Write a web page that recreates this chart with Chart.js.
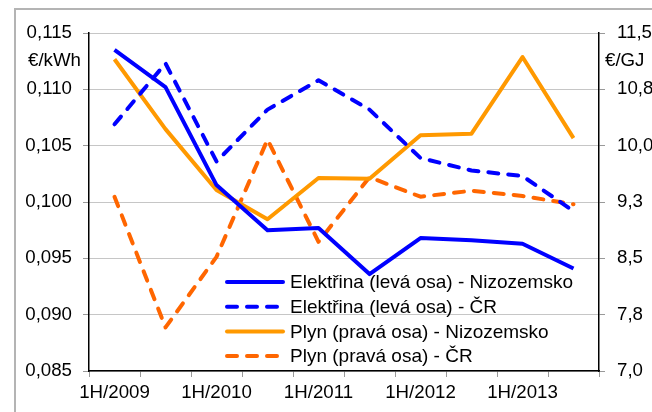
<!DOCTYPE html>
<html>
<head>
<meta charset="utf-8">
<script src="https://cdn.jsdelivr.net/npm/chart.js@4"></script>
<style>
  html, body { margin: 0; padding: 0; background: #fff; }
  #wrap { width: 652px; height: 412px; position: relative; }
</style>
</head>
<body>
<div id="wrap"><canvas id="chart" width="652" height="412"></canvas></div>
<script>
// pololetí
const categories = ['1H/2009', '2H/2009', '1H/2010', '2H/2010', '1H/2011', '2H/2011', '1H/2012', '2H/2012', '1H/2013', '2H/2013'];
// elektřina, €/kWh (levá osa)
const elektrinaNL = [0.1135, 0.1102, 0.1015, 0.0975, 0.0977, 0.0936, 0.0968, 0.0966, 0.0963, 0.0941];
const elektrinaCR = [0.1069, 0.1123, 0.1036, 0.1082, 0.1108, 0.1082, 0.1039, 0.1028, 0.1023, 0.0992];
// plyn, €/GJ (pravá osa)
const plynNL = [11.15, 10.22, 9.41, 9.02, 9.57, 9.56, 10.14, 10.16, 11.18, 10.10];
const plynCR = [9.32, 7.58, 8.52, 10.08, 8.72, 9.58, 9.32, 9.40, 9.33, 9.22];

const FONT = { family: '"Liberation Sans", Arial, sans-serif', size: 18.7 };
const dash = [10, 10];

// rámeček, jednotky os a legenda uvnitř grafu
const extras = {
    id: 'extras',
    beforeDraw(chart) {
        const ctx = chart.ctx;
        ctx.save();
        ctx.strokeStyle = '#b4b4b4';
        ctx.lineWidth = 2;
        ctx.strokeRect(15, 9, 700, 500);
        ctx.restore();
    },
    afterDraw(chart) {
        const ctx = chart.ctx;
        const area = chart.chartArea;
        ctx.save();
        ctx.font = FONT.size + 'px ' + FONT.family;
        ctx.fillStyle = '#000';
        ctx.textBaseline = 'middle';
        ctx.textAlign = 'left';
        ctx.fillText('€/kWh', 28, 61);
        ctx.fillText('€/GJ', 605, 61);

        ctx.font = '19px ' + FONT.family;
        chart.data.datasets.forEach(function(ds, i) {
            const y = area.top + 249 + i * 24.7;
            const x0 = area.left + 138;
            ctx.beginPath();
            ctx.strokeStyle = ds.borderColor;
            ctx.lineWidth = ds.borderWidth;
            ctx.lineCap = 'round';
            ctx.setLineDash(ds.borderDash || []);
            ctx.moveTo(x0, y);
            ctx.lineTo(x0 + 56, y);
            ctx.stroke();
            ctx.setLineDash([]);
            ctx.fillStyle = '#000';
            ctx.fillText(ds.label, x0 + 63, y + 1);
        });
        ctx.restore();
    }
};

const comma = (v, d) => Number(v).toFixed(d).replace('.', ',');

new Chart(document.getElementById('chart').getContext('2d'), {
    type: 'line',
    data: {
        labels: categories,
        datasets: [
            {
                label: 'Elektřina (levá osa) - Nizozemsko',
                data: elektrinaNL,
                yAxisID: 'y',
                borderColor: '#0000ff',
                borderWidth: 4,
                borderJoinStyle: 'round'
            },
            {
                label: 'Elektřina (levá osa) - ČR',
                data: elektrinaCR,
                yAxisID: 'y',
                borderColor: '#0000ff',
                borderWidth: 4,
                borderDash: dash,
                borderCapStyle: 'round',
                borderJoinStyle: 'round'
            },
            {
                label: 'Plyn (pravá osa) - Nizozemsko',
                data: plynNL,
                yAxisID: 'y2',
                borderColor: '#ff9900',
                borderWidth: 4,
                borderJoinStyle: 'round'
            },
            {
                label: 'Plyn (pravá osa) - ČR',
                data: plynCR,
                yAxisID: 'y2',
                borderColor: '#ff6600',
                borderWidth: 4,
                borderDash: dash,
                borderCapStyle: 'round',
                borderJoinStyle: 'round'
            }
        ]
    },
    options: {
        responsive: false,
        animation: false,
        events: [],
        elements: { point: { radius: 0 }, line: { tension: 0 } },
        layout: { padding: { top: 33, left: 0, right: 0, bottom: 0 } },
        plugins: {
            legend: { display: false },
            tooltip: { enabled: false }
        },
        scales: {
            x: {
                offset: true,
                grid: {
                    offset: true,
                    drawOnChartArea: false,
                    drawTicks: true,
                    tickLength: 6,
                    tickColor: '#999'
                },
                border: { color: '#000', width: 1.5 },
                ticks: {
                    autoSkip: false,
                    maxRotation: 0,
                    padding: 5,
                    color: '#000',
                    font: FONT,
                    callback: function(value, index) {
                        return index % 2 === 0 ? categories[index] : '';
                    }
                },
                afterFit: function(scale) { scale.height = 41; }
            },
            y: {
                position: 'left',
                min: 0.085,
                max: 0.115,
                ticks: {
                    stepSize: 0.005,
                    padding: 11,
                    color: '#000',
                    font: FONT,
                    callback: v => comma(v, 3)
                },
                grid: {
                    color: '#8c8c8c',
                    lineWidth: 1,
                    tickLength: 6,
                    tickColor: '#999'
                },
                border: { color: '#000', width: 1.5, dash: [1, 1] },
                afterFit: function(scale) { scale.width = 89; }
            },
            y2: {
                position: 'right',
                min: 7,
                max: 11.5,
                ticks: {
                    stepSize: 0.75,
                    padding: 12,
                    color: '#000',
                    font: FONT,
                    callback: v => comma(v, 1)
                },
                grid: {
                    drawOnChartArea: false,
                    tickLength: 6,
                    tickColor: '#999'
                },
                border: { color: '#000', width: 1.5 },
                afterFit: function(scale) { scale.width = 53; }
            }
        }
    },
    plugins: [extras]
});
</script>
</body>
</html>
